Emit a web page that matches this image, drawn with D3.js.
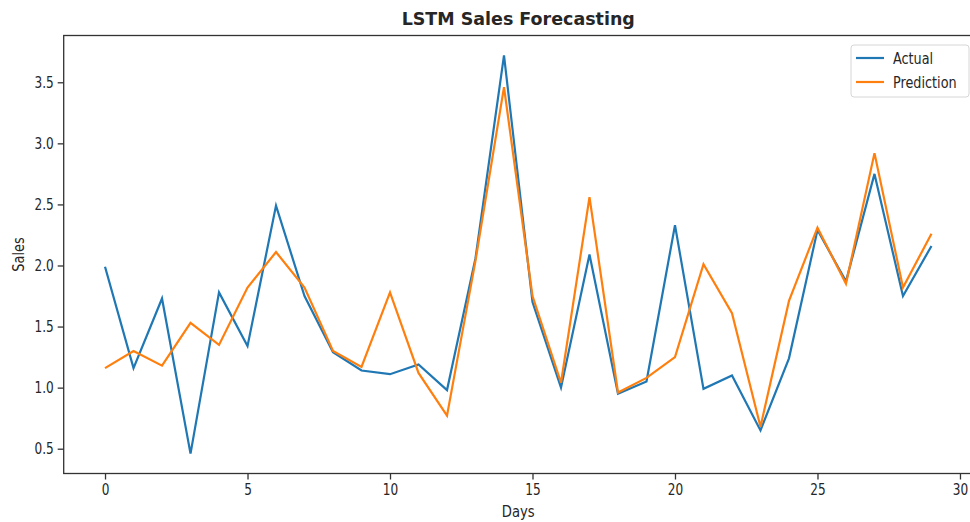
<!DOCTYPE html>
<html>
<head>
<meta charset="utf-8">
<script src="https://cdn.jsdelivr.net/npm/d3@7"></script>
<style>
  body { margin: 0; background: #fff; }
  text { font-family: "DejaVu Sans", sans-serif; fill: #262626; }
</style>
</head>
<body>
<div id="chart"></div>
<script>
// values
let days = d3.range(0, 30);
let actual = [1.99, 1.16, 1.73, 0.46, 1.78, 1.34, 2.49, 1.75, 1.29, 1.14,
              1.11, 1.19, 0.98, 2.06, 3.72, 1.70, 1.00, 2.09, 0.95, 1.05,
              2.33, 0.99, 1.10, 0.65, 1.24, 2.29, 1.87, 2.75, 1.75, 2.16];
let prediction = [1.16, 1.30, 1.18, 1.53, 1.35, 1.82, 2.11, 1.82, 1.30, 1.17,
                  1.78, 1.12, 0.77, 2.04, 3.46, 1.75, 1.04, 2.56, 0.96, 1.08,
                  1.25, 2.01, 1.61, 0.68, 1.71, 2.31, 1.85, 2.92, 1.82, 2.26];
let xTicks = [0, 5, 10, 15, 20, 25, 30];
let yTicks = [0.5, 1.0, 1.5, 2.0, 2.5, 3.0, 3.5];
let seriesNames = ["Actual", "Prediction"];
let colors = ["#1f77b4", "#ff7f0e"];

let width = 970, height = 522;
let plotLeft = 63.7, plotRight = 972.8, plotTop = 35.5, plotBottom = 473.5;

// squeeze text horizontally like the reference
function condense(sel, k) {
    sel.each(function () {
        let w = this.getComputedTextLength();
        d3.select(this).attr("textLength", w * k).attr("lengthAdjust", "spacingAndGlyphs");
    });
}

let svg = d3.select("#chart").append("svg")
    .attr("width", width)
    .attr("height", height);

svg.append("rect").attr("width", width).attr("height", height).attr("fill", "#fff");

// matplotlib style 5% margins
let xPad = (d3.max(days) - d3.min(days)) * 0.05;
let allVals = actual.concat(prediction);
let yPad = (d3.max(allVals) - d3.min(allVals)) * 0.05;

let x = d3.scaleLinear()
    .domain([d3.min(days) - xPad, d3.max(days) + xPad])
    .range([plotLeft, plotRight]);
let y = d3.scaleLinear()
    .domain([d3.min(allVals) - yPad, d3.max(allVals) + yPad])
    .range([plotBottom, plotTop]);

let line = d3.line()
    .x((d, i) => x(days[i]))
    .y(d => y(d));

[actual, prediction].forEach(function (s, i) {
    svg.append("path")
        .datum(s)
        .attr("fill", "none")
        .attr("stroke", colors[i])
        .attr("stroke-width", 2.2)
        .attr("stroke-linejoin", "miter")
        .attr("d", line);
});

// axes
let xAxis = svg.append("g")
    .attr("transform", `translate(0, ${plotBottom})`)
    .call(d3.axisBottom(x).tickValues(xTicks).tickSize(6).tickPadding(4).tickFormat(d3.format("d")));
let yAxis = svg.append("g")
    .attr("transform", `translate(${plotLeft}, 0)`)
    .call(d3.axisLeft(y).tickValues(yTicks).tickSize(6).tickPadding(4).tickFormat(d3.format(".1f")));

[xAxis, yAxis].forEach(function (a) {
    a.select(".domain").remove();
    a.selectAll("line").attr("stroke", "#333").attr("stroke-width", 1.3);
    a.selectAll("text").style("font-size", "15.5px").attr("fill", "#262626");
    condense(a.selectAll("text"), 0.78);
});

// spines
svg.append("rect")
    .attr("x", plotLeft).attr("y", plotTop)
    .attr("width", plotRight - plotLeft).attr("height", plotBottom - plotTop)
    .attr("fill", "none")
    .attr("stroke", "#333")
    .attr("stroke-width", 1.3);

// title and labels
let title = svg.append("text")
    .attr("x", (plotLeft + plotRight) / 2).attr("y", 25)
    .attr("text-anchor", "middle")
    .style("font-size", "18px")
    .style("font-weight", "bold")
    .text("LSTM Sales Forecasting");
condense(title, 0.97);

let xLabel = svg.append("text")
    .attr("x", (plotLeft + plotRight) / 2).attr("y", 517)
    .attr("text-anchor", "middle")
    .style("font-size", "15.5px")
    .text("Days");
condense(xLabel, 0.85);

let yLabel = svg.append("text")
    .attr("transform", `translate(24, ${(plotTop + plotBottom) / 2}) rotate(-90)`)
    .attr("text-anchor", "middle")
    .style("font-size", "15.5px")
    .text("Sales");
condense(yLabel, 0.83);

// legend
let legend = svg.append("g").attr("transform", "translate(851, 45)");
legend.append("rect")
    .attr("width", 118).attr("height", 52)
    .attr("rx", 3)
    .attr("fill", "#fff")
    .attr("fill-opacity", 0.8)
    .attr("stroke", "#d6d6d6");
seriesNames.forEach(function (name, i) {
    let g = legend.append("g").attr("transform", `translate(0, ${13 + i * 24})`);
    g.append("line")
        .attr("x1", 5).attr("x2", 33)
        .attr("stroke", colors[i]).attr("stroke-width", 2.2);
    let t = g.append("text")
        .attr("x", 42).attr("y", 5.5)
        .style("font-size", "16px")
        .text(name);
    condense(t, 0.8);
});
</script>
</body>
</html>
